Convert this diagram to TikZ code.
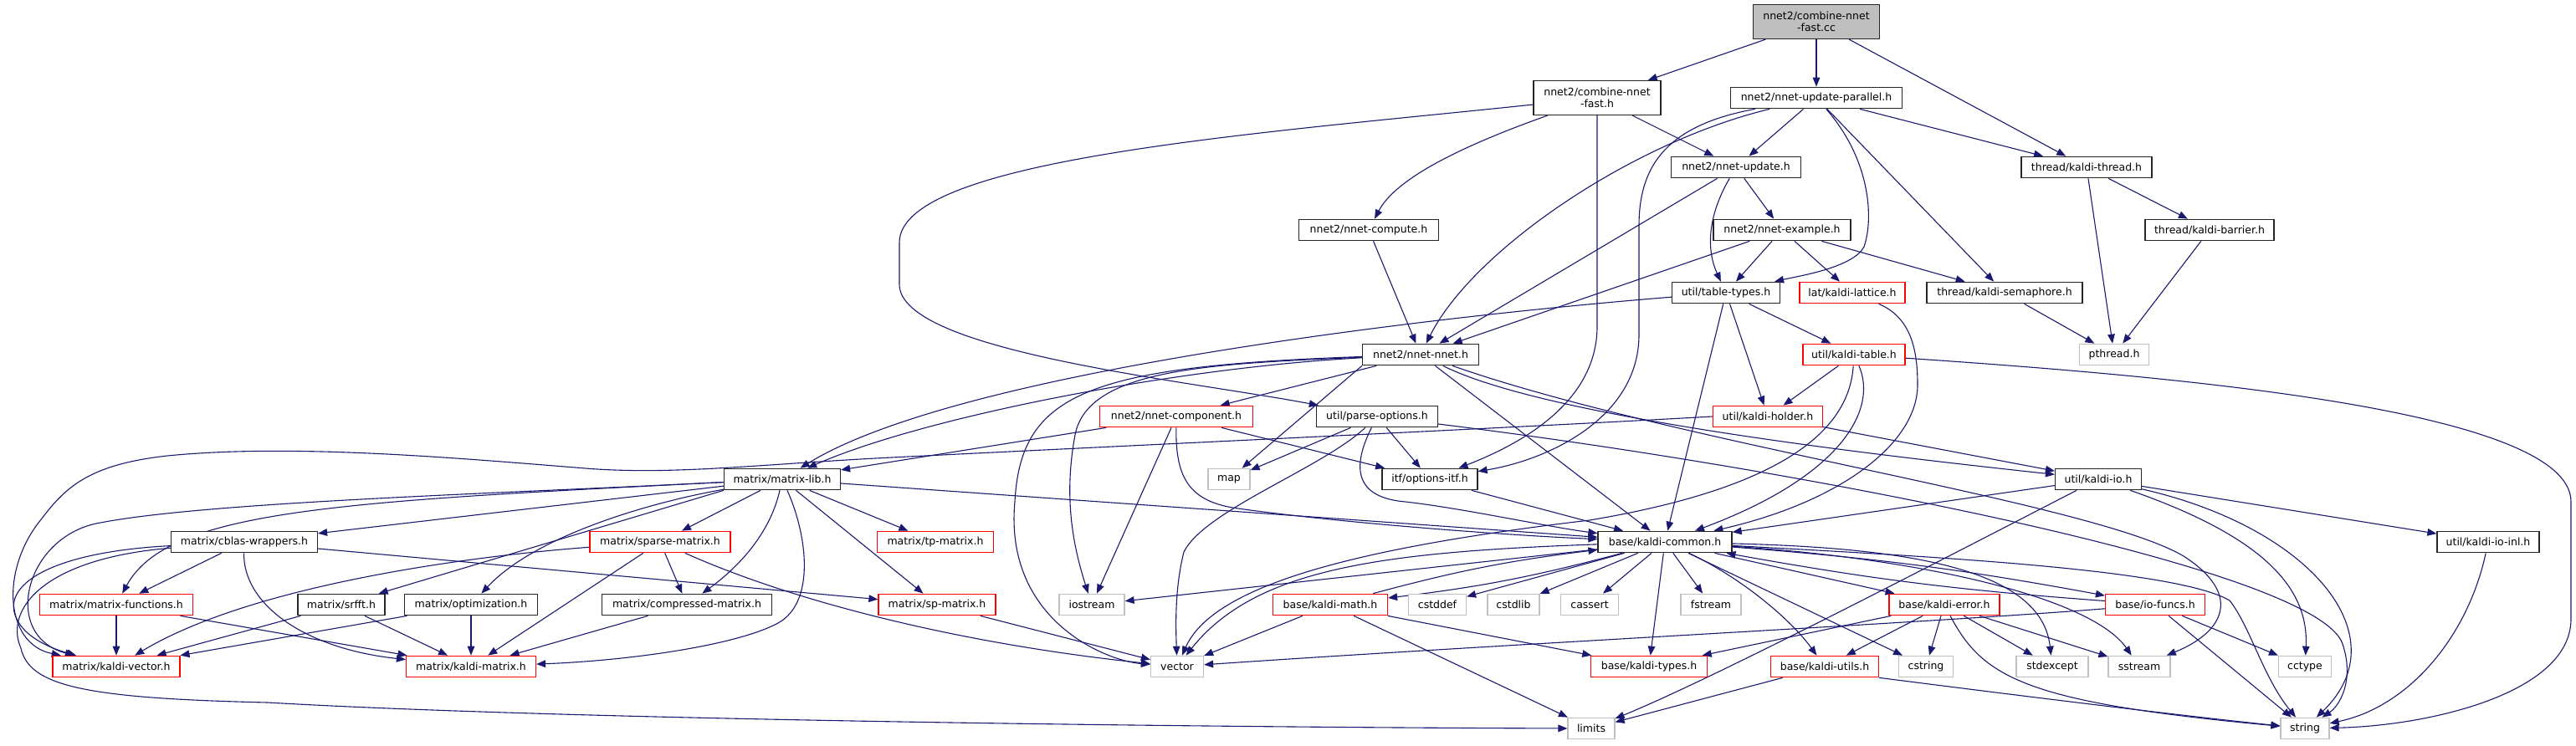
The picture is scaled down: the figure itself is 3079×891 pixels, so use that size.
\documentclass[tikz,border=0pt]{standalone}
\usepackage{fontspec}
\setmainfont{DejaVu Sans}
\usetikzlibrary{arrows.meta}
\definecolor{edgec}{HTML}{191970}
\definecolor{grayb}{HTML}{BFBFBF}
\newcommand{\dgfont}{\fontsize{6.25pt}{6.9pt}\selectfont}
\pgfdeclarelayer{bgw}
\pgfdeclarelayer{edges}
\pgfsetlayers{bgw,edges,main}
\begin{document}
\begin{tikzpicture}[x=0.5pt,y=-0.5pt,
  nb/.style={draw=black!85, fill=white, line width=0.6pt, inner sep=0pt, minimum height=12.75pt, font=\dgfont, text=black},
  nr/.style={nb, draw=red},
  ng/.style={nb, draw=grayb},
  e/.style={draw=edgec, line width=0.55pt, -{Triangle[length=5.5pt,width=4.3pt]}},
]
\begin{pgfonlayer}{bgw}
\fill[white] (0,0) rectangle (3079,891);
\end{pgfonlayer}
\useasboundingbox (0,0) rectangle (3079,891);

% ---------- nodes ----------
\node[nb, fill=grayb, minimum width=75.5pt, minimum height=20.5pt, align=center] (cc) at (2171,26) {nnet2/combine-nnet\\-fast.cc};
\node[nb, minimum width=76pt, minimum height=20.5pt, align=center] (cnf) at (1909,117) {nnet2/combine-nnet\\-fast.h};
\node[nb, minimum width=102.5pt] (nup) at (2171,117) {nnet2/nnet-update-parallel.h};
\node[nb, minimum width=77.5pt] (nupd) at (2075,200) {nnet2/nnet-update.h};
\node[nb, minimum width=78pt] (thr) at (2494,200) {thread/kaldi-thread.h};
\node[nb, minimum width=83.5pt] (comp) at (1636,275) {nnet2/nnet-compute.h};
\node[nb, minimum width=82pt] (ex) at (2130,275) {nnet2/nnet-example.h};
\node[nb, minimum width=77pt] (bar) at (2641,275) {thread/kaldi-barrier.h};
\node[nb, minimum width=64.5pt] (tt) at (2063,350) {util/table-types.h};
\node[nr, minimum width=63pt] (lat) at (2214,350) {lat/kaldi-lattice.h};
\node[nb, minimum width=93pt] (sem) at (2396,350) {thread/kaldi-semaphore.h};
\node[nb, minimum width=69.5pt] (nn) at (1698,424) {nnet2/nnet-nnet.h};
\node[nr, minimum width=61pt] (kt) at (2216,424) {util/kaldi-table.h};
\node[ng, minimum width=41.5pt] (pth) at (2527,424) {pthread.h};
\node[nr, minimum width=91.5pt] (nc) at (1406,498) {nnet2/nnet-component.h};
\node[nb, minimum width=72.5pt] (po) at (1646,498) {util/parse-options.h};
\node[nr, minimum width=65.5pt] (kh) at (2113,498) {util/kaldi-holder.h};
\node[nb, minimum width=69.5pt] (ml) at (935,573) {matrix/matrix-lib.h};
\node[ng, minimum width=25pt] (map) at (1469,573) {map};
\node[nb, minimum width=57pt] (oi) at (1709,573) {itf/options-itf.h};
\node[nb, minimum width=51.5pt] (kio) at (2508,573) {util/kaldi-io.h};
\node[nb, minimum width=87.5pt] (cb) at (292,648) {matrix/cblas-wrappers.h};
\node[nr, minimum width=84pt] (sm) at (789,648) {matrix/sparse-matrix.h};
\node[nr, minimum width=69.5pt] (tp) at (1118,648) {matrix/tp-matrix.h};
\node[nb, minimum width=80pt] (kc) at (1990,648) {base/kaldi-common.h};
\node[nb, minimum width=61pt] (kioi) at (2974,648) {util/kaldi-io-inl.h};
\node[nr, minimum width=91.5pt] (mf) at (139,723) {matrix/matrix-functions.h};
\node[nb, minimum width=52pt] (srf) at (408,723) {matrix/srfft.h};
\node[nb, minimum width=79.5pt] (opt) at (563,723) {matrix/optimization.h};
\node[nb, minimum width=101.5pt] (cm) at (821,723) {matrix/compressed-matrix.h};
\node[nr, minimum width=70pt] (spm) at (1120,723) {matrix/sp-matrix.h};
\node[ng, minimum width=39pt] (ios) at (1305,723) {iostream};
\node[nr, minimum width=68.5pt] (km) at (1590,723) {base/kaldi-math.h};
\node[ng, minimum width=34.5pt] (cdef) at (1718,723) {cstddef};
\node[ng, minimum width=31pt] (cstl) at (1809,723) {cstdlib};
\node[ng, minimum width=34.5pt] (cas) at (1900,723) {cassert};
\node[ng, minimum width=36pt] (fst) at (2045,723) {fstream};
\node[nr, minimum width=66pt] (ke) at (2324,723) {base/kaldi-error.h};
\node[nr, minimum width=59.5pt] (iof) at (2576,723) {base/io-funcs.h};
\node[nr, minimum width=76pt] (kv) at (139,797) {matrix/kaldi-vector.h};
\node[nr, minimum width=77.5pt] (kmx) at (563,797) {matrix/kaldi-matrix.h};
\node[ng, minimum width=31.5pt] (vec) at (1407,797) {vector};
\node[nr, minimum width=69.5pt] (kty) at (1971,797) {base/kaldi-types.h};
\node[nr, minimum width=64.5pt] (ku) at (2181,797) {base/kaldi-utils.h};
\node[ng, minimum width=32.5pt] (cstr) at (2302,797) {cstring};
\node[ng, minimum width=43pt] (sexc) at (2453,797) {stdexcept};
\node[ng, minimum width=37pt] (sst) at (2557,797) {sstream};
\node[ng, minimum width=31.5pt] (cct) at (2755,797) {cctype};
\node[ng, minimum width=28pt] (lim) at (1902,871) {limits};
\node[ng, minimum width=29pt] (str) at (2755,871) {string};

% ---------- edges ----------
\begin{pgfonlayer}{edges}
% top
\draw[e] (cc) -- (cnf);
\draw[e] (cc) -- (nup);
\draw[e] (cc) -- (thr);
% combine-nnet-fast.h
\draw[e] (cnf) -- (nupd);
\draw[e] (cnf) .. controls (1760,170) and (1670,210) .. (comp);
\draw[e] (cnf) .. controls (1500,160) and (1075,190) .. (1075,290) -- (1075,340) .. controls (1075,420) and (1420,455) .. (po);
\draw[e] (cnf.south) -- (1909,390) .. controls (1909,480) and (1820,530) .. (oi);
% nnet-update-parallel.h
\draw[e] (nup) -- (nupd);
\draw[e] (nup) -- (thr);
\draw[e] (nup) .. controls (1950,170) and (1760,300) .. (nn);
\draw[e] (nup) .. controls (2235,190) and (2240,260) .. (2228,295) .. controls (2215,320) and (2150,330) .. (tt);
\draw[e] (nup) -- (sem);
\draw[e] (nup) .. controls (1990,150) and (1959,200) .. (1959,270) -- (1959,400) .. controls (1959,500) and (1850,550) .. (oi);
% nnet-update.h
\draw[e] (nupd) -- (nn);
\draw[e] (nupd) .. controls (2040,260) and (2040,300) .. (tt);
\draw[e] (nupd) -- (ex);
% threads
\draw[e] (thr) -- (pth);
\draw[e] (thr) -- (bar);
\draw[e] (bar) -- (pth);
\draw[e] (sem) -- (pth);
\draw[e] (comp) -- (nn);
% nnet-example.h
\draw[e] (ex) -- (nn);
\draw[e] (ex) -- (tt);
\draw[e] (ex) -- (lat);
\draw[e] (ex) -- (sem);
% table-types.h
\draw[e] (tt) .. controls (1750,375) and (1150,440) .. (ml);
\draw[e] (tt) -- (kt);
\draw[e] (tt) -- (kh);
\draw[e] (tt) -- (kc);
% lattice
\draw[e] (lat) .. controls (2285,380) and (2292,420) .. (2292,460) .. controls (2292,530) and (2200,600) .. (kc);
% kaldi-table.h
\draw[e] (kt) -- (kh);
\draw[e] (kt) .. controls (2245,490) and (2200,570) .. (kc);
\draw[e] (kt) .. controls (2210,520) and (2120,585) .. (1900,622) .. controls (1620,655) and (1450,700) .. (vec);
\draw[e] (kt) .. controls (2600,450) and (3073,490) .. (3073,600) -- (3073,740) .. controls (3073,830) and (2900,868) .. (str);
% kaldi-holder.h
\draw[e] (kh) -- (kio);
\draw[e] (kh.west) .. controls (1800,512) and (1300,535) .. (1046,548) .. controls (900,556) and (800,568) .. (700,560) .. controls (550,548) and (350,530) .. (200,545) .. controls (110,555) and (80,580) .. (50,620) .. controls (0,680) and (5,770) .. (kv);
% nnet-nnet.h
\draw[e] (nn) .. controls (1400,440) and (1100,500) .. (ml);
\draw[e] (nn) -- (nc);
\draw[e] (nn.south west) -- (map);
\draw[e] (nn) .. controls (1450,435) and (1300,440) .. (1285,520) .. controls (1270,600) and (1285,660) .. (ios);
\draw[e] (nn) .. controls (1300,438) and (1220,470) .. (1213,600) .. controls (1200,740) and (1320,790) .. (vec);
\draw[e] (nn) -- (kc);
\draw[e] (nn) .. controls (1850,500) and (2250,545) .. (kio);
\draw[e] (nn) .. controls (2000,530) and (2500,600) .. (2610,665) .. controls (2680,710) and (2660,755) .. (sst);
% nnet-component.h
\draw[e] (nc) -- (ml);
\draw[e] (nc) -- (ios);
\draw[e] (nc) .. controls (1405,570) and (1420,600) .. (1480,608) .. controls (1600,625) and (1800,640) .. (kc);
\draw[e] (nc) -- (oi);
% parse-options.h
\draw[e] (po) -- (map);
\draw[e] (po) -- (oi);
\draw[e] (po) .. controls (1615,560) and (1620,595) .. (1680,600) .. controls (1750,608) and (1850,630) .. (kc);
\draw[e] (po) .. controls (1580,560) and (1440,610) .. (1415,660) .. controls (1405,700) and (1405,740) .. (vec);
\draw[e] (po) .. controls (2150,560) and (2770,680) .. (2800,770) .. controls (2815,815) and (2795,845) .. (str);
% options-itf.h
\draw[e] (oi) -- (kc);
% kaldi-io.h
\draw[e] (kio) -- (kc);
\draw[e] (kio) -- (kioi);
\draw[e] (kio) .. controls (2700,640) and (2760,700) .. (cct);
\draw[e] (kio) .. controls (2760,630) and (2870,760) .. (str);
\draw[e] (kio) .. controls (2300,680) and (2050,810) .. (lim);
\draw[e] (kioi) .. controls (2950,760) and (2880,845) .. (str);
% matrix-lib.h
\draw[e] (ml) .. controls (600,590) and (250,600) .. (120,625) .. controls (30,640) and (0,760) .. (kv);
\draw[e] (ml) .. controls (400,600) and (200,610) .. (mf);
\draw[e] (ml) -- (cb);
\draw[e] (ml.south west) -- (srf);
\draw[e] (ml) .. controls (780,600) and (640,640) .. (opt);
\draw[e] (ml) -- (sm);
\draw[e] (ml) .. controls (920,640) and (880,680) .. (cm);
\draw[e] (ml) .. controls (965,640) and (975,720) .. (930,745) .. controls (880,772) and (750,790) .. (kmx);
\draw[e] (ml) -- (tp);
\draw[e] (ml) -- (spm);
\draw[e] (ml) -- (kc);
% cblas-wrappers.h
\draw[e] (cb) -- (mf);
\draw[e] (cb) .. controls (290,720) and (360,775) .. (kmx);
\draw[e] (cb) .. controls (60,660) and (0,700) .. (20,740) .. controls (30,762) and (60,775) .. (kv);
\draw[e] (cb) .. controls (50,668) and (5,730) .. (25,775) .. controls (35,820) and (100,835) .. (320,840) .. controls (700,862) and (1500,870) .. (lim);
\draw[e] (cb) -- (spm);
% other matrix headers
\draw[e] (mf) -- (kv);
\draw[e] (mf) -- (kmx);
\draw[e] (srf) -- (kv);
\draw[e] (srf) -- (kmx);
\draw[e] (opt) -- (kv);
\draw[e] (opt) -- (kmx);
\draw[e] (sm) .. controls (560,665) and (300,700) .. (kv);
\draw[e] (sm) -- (kmx);
\draw[e] (sm) -- (cm);
\draw[e] (sm) .. controls (950,720) and (1150,770) .. (vec);
\draw[e] (cm) -- (kmx);
\draw[e] (spm) -- (vec);
% kaldi-common.h
\draw[e] (kc) -- (cdef);
\draw[e] (kc) -- (cstl);
\draw[e] (kc) -- (cas);
\draw[e] (kc) -- (fst);
\draw[e] (kc) -- (kty);
\draw[e] (kc) -- (ios);
\draw[e] (kc) .. controls (1650,660) and (1500,680) .. (vec);
\draw[e] (kc) to[bend left=4] (km);
\draw[e] (km) to[bend left=4] (kc);
\draw[e] (kc) -- (ke);
\draw[e] (kc) .. controls (2080,690) and (2140,740) .. (ku);
\draw[e] (kc) -- (cstr);
\draw[e] (kc) .. controls (2280,655) and (2440,680) .. (sexc);
\draw[e] (kc) .. controls (2300,668) and (2500,715) .. (sst);
\draw[e] (kc) to[bend left=3] (iof);
\draw[e] (iof) to[bend left=3] (kc);
\draw[e] (kc) .. controls (2300,665) and (2600,680) .. (2665,718) .. controls (2690,750) and (2705,810) .. (str);
% kaldi-math.h
\draw[e] (km) -- (kty);
\draw[e] (km) -- (vec);
\draw[e] (km) -- (lim);
% kaldi-error.h
\draw[e] (ke) -- (kty);
\draw[e] (ke) -- (ku);
\draw[e] (ke) -- (cstr);
\draw[e] (ke) -- (sexc);
\draw[e] (ke) -- (sst);
\draw[e] (ke) .. controls (2370,810) and (2420,840) .. (str);
% io-funcs.h
\draw[e] (iof) .. controls (2300,745) and (1800,770) .. (vec);
\draw[e] (iof) -- (str);
\draw[e] (iof) -- (cct);
% kaldi-utils.h
\draw[e] (ku) -- (lim);
\draw[e] (ku.south east) .. controls (2400,830) and (2600,855) .. (str);
\end{pgfonlayer}
\end{tikzpicture}
\end{document}
